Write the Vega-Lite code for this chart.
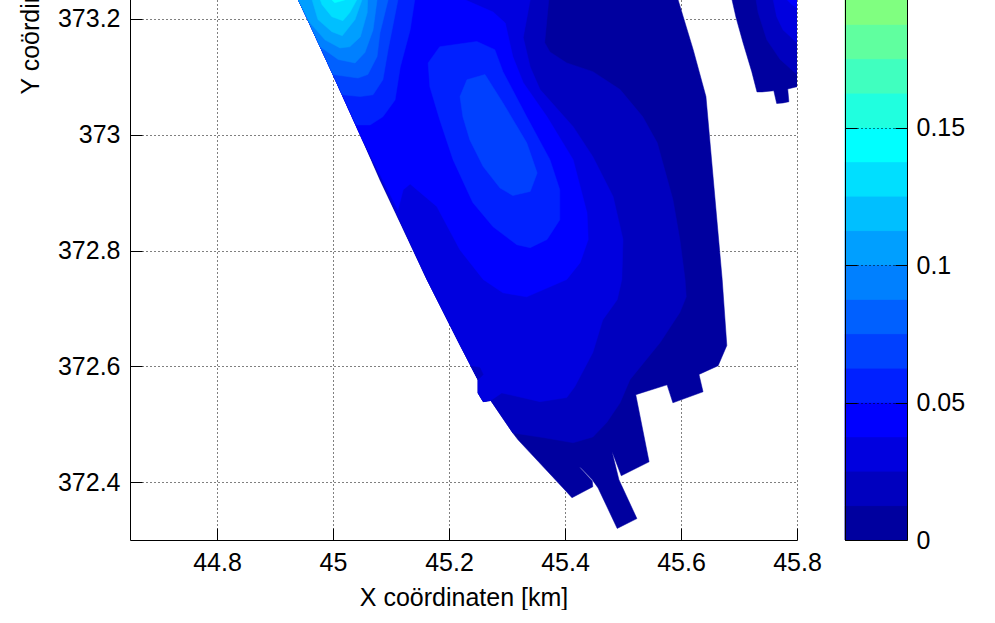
{"$schema":"https://vega.github.io/schema/vega-lite/v6.json","background":"white","padding":{"left":18,"top":-560,"right":0,"bottom":0},"config":{"font":"Liberation Sans","view":{"stroke":null},"axis":{"labelFont":"Liberation Sans","titleFont":"Liberation Sans","labelFontSize":25,"titleFontSize":25,"titleFontWeight":"normal","labelColor":"black","titleColor":"black","domainColor":"black","tickColor":"black","gridColor":"black","gridOpacity":1,"gridDash":[1,3],"gridWidth":1,"tickSize":-12,"labelOverlap":false,"labelFlush":false,"labelBound":false}},"datasets":{"contours":[
{"poly":"a","level":1,"i":0,"x":44.936,"y":373.242},{"poly":"a","level":1,"i":1,"x":44.955,"y":373.202},{"poly":"a","level":1,"i":2,"x":45,"y":373.104},{"poly":"a","level":1,"i":3,"x":45.05,"y":372.993},{"poly":"a","level":1,"i":4,"x":45.081,"y":372.922},{"poly":"a","level":1,"i":5,"x":45.162,"y":372.75},{"poly":"a","level":1,"i":6,"x":45.219,"y":372.637},{"poly":"a","level":1,"i":7,"x":45.25,"y":372.577},{"poly":"a","level":1,"i":8,"x":45.25,"y":372.554},{"poly":"a","level":1,"i":9,"x":45.259,"y":372.539},{"poly":"a","level":1,"i":10,"x":45.272,"y":372.541},{"poly":"a","level":1,"i":11,"x":45.31,"y":372.485},{"poly":"a","level":1,"i":12,"x":45.319,"y":372.473},{"poly":"a","level":1,"i":13,"x":45.403,"y":372.383},{"poly":"a","level":1,"i":14,"x":45.412,"y":372.373},{"poly":"a","level":1,"i":15,"x":45.448,"y":372.392},{"poly":"a","level":1,"i":16,"x":45.447,"y":372.402},{"poly":"a","level":1,"i":17,"x":45.424,"y":372.427},{"poly":"a","level":1,"i":18,"x":45.429,"y":372.423},{"poly":"a","level":1,"i":19,"x":45.447,"y":372.404},{"poly":"a","level":1,"i":20,"x":45.457,"y":372.39},{"poly":"a","level":1,"i":21,"x":45.49,"y":372.32},{"poly":"a","level":1,"i":22,"x":45.524,"y":372.337},{"poly":"a","level":1,"i":23,"x":45.493,"y":372.404},{"poly":"a","level":1,"i":24,"x":45.481,"y":372.453},{"poly":"a","level":1,"i":25,"x":45.497,"y":372.411},{"poly":"a","level":1,"i":26,"x":45.545,"y":372.435},{"poly":"a","level":1,"i":27,"x":45.522,"y":372.551},{"poly":"a","level":1,"i":28,"x":45.576,"y":372.568},{"poly":"a","level":1,"i":29,"x":45.586,"y":372.537},{"poly":"a","level":1,"i":30,"x":45.638,"y":372.556},{"poly":"a","level":1,"i":31,"x":45.631,"y":372.586},{"poly":"a","level":1,"i":32,"x":45.664,"y":372.601},{"poly":"a","level":1,"i":33,"x":45.679,"y":372.636},{"poly":"a","level":1,"i":34,"x":45.671,"y":372.75},{"poly":"a","level":1,"i":35,"x":45.643,"y":373.066},{"poly":"a","level":1,"i":36,"x":45.621,"y":373.147},{"poly":"a","level":1,"i":37,"x":45.595,"y":373.233},{"poly":"a","level":1,"i":38,"x":45.591,"y":373.242},
{"poly":"b1","level":1,"i":0,"x":45.684,"y":373.242},{"poly":"b1","level":1,"i":1,"x":45.688,"y":373.233},{"poly":"b1","level":1,"i":2,"x":45.695,"y":373.202},{"poly":"b1","level":1,"i":3,"x":45.707,"y":373.159},{"poly":"b1","level":1,"i":4,"x":45.722,"y":373.109},{"poly":"b1","level":1,"i":5,"x":45.731,"y":373.074},{"poly":"b1","level":1,"i":6,"x":45.74,"y":373.074},{"poly":"b1","level":1,"i":7,"x":45.76,"y":373.076},{"poly":"b1","level":1,"i":8,"x":45.765,"y":373.054},{"poly":"b1","level":1,"i":9,"x":45.776,"y":373.055},{"poly":"b1","level":1,"i":10,"x":45.786,"y":373.057},{"poly":"b1","level":1,"i":11,"x":45.784,"y":373.079},{"poly":"b1","level":1,"i":12,"x":45.8,"y":373.083},{"poly":"b1","level":1,"i":13,"x":45.8,"y":373.242},
{"poly":"b2","level":2,"i":0,"x":45.728,"y":373.242},{"poly":"b2","level":2,"i":1,"x":45.733,"y":373.211},{"poly":"b2","level":2,"i":2,"x":45.748,"y":373.164},{"poly":"b2","level":2,"i":3,"x":45.771,"y":373.13},{"poly":"b2","level":2,"i":4,"x":45.8,"y":373.104},{"poly":"b2","level":2,"i":5,"x":45.8,"y":373.242},
{"poly":"b3","level":3,"i":0,"x":45.757,"y":373.242},{"poly":"b3","level":3,"i":1,"x":45.759,"y":373.233},{"poly":"b3","level":3,"i":2,"x":45.765,"y":373.204},{"poly":"b3","level":3,"i":3,"x":45.776,"y":373.181},{"poly":"b3","level":3,"i":4,"x":45.8,"y":373.159},{"poly":"b3","level":3,"i":5,"x":45.8,"y":373.242},
{"poly":"b4","level":4,"i":0,"x":45.781,"y":373.242},{"poly":"b4","level":4,"i":1,"x":45.783,"y":373.233},{"poly":"b4","level":4,"i":2,"x":45.791,"y":373.225},{"poly":"b4","level":4,"i":3,"x":45.8,"y":373.219},{"poly":"b4","level":4,"i":4,"x":45.8,"y":373.242},
{"poly":"c","level":2,"i":0,"x":45.376,"y":373.242},{"poly":"c","level":2,"i":1,"x":45.372,"y":373.233},{"poly":"c","level":2,"i":2,"x":45.365,"y":373.159},{"poly":"c","level":2,"i":3,"x":45.374,"y":373.143},{"poly":"c","level":2,"i":4,"x":45.403,"y":373.124},{"poly":"c","level":2,"i":5,"x":45.448,"y":373.109},{"poly":"c","level":2,"i":6,"x":45.495,"y":373.078},{"poly":"c","level":2,"i":7,"x":45.534,"y":373.031},{"poly":"c","level":2,"i":8,"x":45.559,"y":372.986},{"poly":"c","level":2,"i":9,"x":45.586,"y":372.888},{"poly":"c","level":2,"i":10,"x":45.598,"y":372.819},{"poly":"c","level":2,"i":11,"x":45.607,"y":372.75},{"poly":"c","level":2,"i":12,"x":45.609,"y":372.72},{"poly":"c","level":2,"i":13,"x":45.598,"y":372.693},{"poly":"c","level":2,"i":14,"x":45.564,"y":372.641},{"poly":"c","level":2,"i":15,"x":45.512,"y":372.577},{"poly":"c","level":2,"i":16,"x":45.495,"y":372.537},{"poly":"c","level":2,"i":17,"x":45.472,"y":372.503},{"poly":"c","level":2,"i":18,"x":45.448,"y":372.478},{"poly":"c","level":2,"i":19,"x":45.414,"y":372.468},{"poly":"c","level":2,"i":20,"x":45.362,"y":372.477},{"poly":"c","level":2,"i":21,"x":45.31,"y":372.485},{"poly":"c","level":2,"i":22,"x":45.272,"y":372.541},{"poly":"c","level":2,"i":23,"x":45.259,"y":372.539},{"poly":"c","level":2,"i":24,"x":45.25,"y":372.554},{"poly":"c","level":2,"i":25,"x":45.25,"y":372.577},{"poly":"c","level":2,"i":26,"x":45.219,"y":372.637},{"poly":"c","level":2,"i":27,"x":45.162,"y":372.75},{"poly":"c","level":2,"i":28,"x":45.05,"y":372.993},{"poly":"c","level":2,"i":29,"x":45,"y":373.104},{"poly":"c","level":2,"i":30,"x":44.955,"y":373.202},{"poly":"c","level":2,"i":31,"x":44.936,"y":373.242},
{"poly":"d","level":3,"i":0,"x":45.343,"y":373.242},{"poly":"d","level":3,"i":1,"x":45.34,"y":373.233},{"poly":"d","level":3,"i":2,"x":45.328,"y":373.168},{"poly":"d","level":3,"i":3,"x":45.34,"y":373.117},{"poly":"d","level":3,"i":4,"x":45.357,"y":373.078},{"poly":"d","level":3,"i":5,"x":45.414,"y":373.014},{"poly":"d","level":3,"i":6,"x":45.448,"y":372.962},{"poly":"d","level":3,"i":7,"x":45.483,"y":372.893},{"poly":"d","level":3,"i":8,"x":45.5,"y":372.819},{"poly":"d","level":3,"i":9,"x":45.498,"y":372.75},{"poly":"d","level":3,"i":10,"x":45.49,"y":372.715},{"poly":"d","level":3,"i":11,"x":45.465,"y":372.68},{"poly":"d","level":3,"i":12,"x":45.448,"y":372.624},{"poly":"d","level":3,"i":13,"x":45.417,"y":372.565},{"poly":"d","level":3,"i":14,"x":45.403,"y":372.546},{"poly":"d","level":3,"i":15,"x":45.357,"y":372.539},{"poly":"d","level":3,"i":16,"x":45.291,"y":372.554},{"poly":"d","level":3,"i":17,"x":45.272,"y":372.541},{"poly":"d","level":3,"i":18,"x":45.259,"y":372.539},{"poly":"d","level":3,"i":19,"x":45.25,"y":372.554},{"poly":"d","level":3,"i":20,"x":45.25,"y":372.577},{"poly":"d","level":3,"i":21,"x":45.219,"y":372.637},{"poly":"d","level":3,"i":22,"x":45.162,"y":372.75},{"poly":"d","level":3,"i":23,"x":45.05,"y":372.993},{"poly":"d","level":3,"i":24,"x":45,"y":373.104},{"poly":"d","level":3,"i":25,"x":44.955,"y":373.202},{"poly":"d","level":3,"i":26,"x":44.936,"y":373.242},
{"poly":"spot","level":2,"i":0,"x":45.238,"y":372.6},{"poly":"spot","level":2,"i":1,"x":45.253,"y":372.598},{"poly":"spot","level":2,"i":2,"x":45.259,"y":372.586},{"poly":"spot","level":2,"i":3,"x":45.25,"y":372.577},
{"poly":"e","level":4,"i":0,"x":45.224,"y":373.242},{"poly":"e","level":4,"i":1,"x":45.228,"y":373.233},{"poly":"e","level":4,"i":2,"x":45.276,"y":373.212},{"poly":"e","level":4,"i":3,"x":45.297,"y":373.193},{"poly":"e","level":4,"i":4,"x":45.31,"y":373.135},{"poly":"e","level":4,"i":5,"x":45.328,"y":373.09},{"poly":"e","level":4,"i":6,"x":45.369,"y":373.031},{"poly":"e","level":4,"i":7,"x":45.414,"y":372.957},{"poly":"e","level":4,"i":8,"x":45.438,"y":372.865},{"poly":"e","level":4,"i":9,"x":45.44,"y":372.819},{"poly":"e","level":4,"i":10,"x":45.426,"y":372.779},{"poly":"e","level":4,"i":11,"x":45.403,"y":372.75},{"poly":"e","level":4,"i":12,"x":45.334,"y":372.72},{"poly":"e","level":4,"i":13,"x":45.293,"y":372.727},{"poly":"e","level":4,"i":14,"x":45.259,"y":372.75},{"poly":"e","level":4,"i":15,"x":45.219,"y":372.801},{"poly":"e","level":4,"i":16,"x":45.179,"y":372.876},{"poly":"e","level":4,"i":17,"x":45.133,"y":372.915},{"poly":"e","level":4,"i":18,"x":45.121,"y":372.905},{"poly":"e","level":4,"i":19,"x":45.112,"y":372.87},{"poly":"e","level":4,"i":20,"x":45.05,"y":372.993},{"poly":"e","level":4,"i":21,"x":45,"y":373.104},{"poly":"e","level":4,"i":22,"x":44.955,"y":373.202},{"poly":"e","level":4,"i":23,"x":44.936,"y":373.242},
{"poly":"f","level":5,"i":0,"x":45.164,"y":373.124},{"poly":"f","level":5,"i":1,"x":45.184,"y":373.152},{"poly":"f","level":5,"i":2,"x":45.248,"y":373.161},{"poly":"f","level":5,"i":3,"x":45.279,"y":373.147},{"poly":"f","level":5,"i":4,"x":45.293,"y":373.109},{"poly":"f","level":5,"i":5,"x":45.334,"y":373.031},{"poly":"f","level":5,"i":6,"x":45.374,"y":372.957},{"poly":"f","level":5,"i":7,"x":45.391,"y":372.905},{"poly":"f","level":5,"i":8,"x":45.391,"y":372.853},{"poly":"f","level":5,"i":9,"x":45.369,"y":372.819},{"poly":"f","level":5,"i":10,"x":45.34,"y":372.805},{"poly":"f","level":5,"i":11,"x":45.317,"y":372.81},{"poly":"f","level":5,"i":12,"x":45.276,"y":372.841},{"poly":"f","level":5,"i":13,"x":45.241,"y":372.883},{"poly":"f","level":5,"i":14,"x":45.207,"y":372.957},{"poly":"f","level":5,"i":15,"x":45.184,"y":373.026},{"poly":"f","level":5,"i":16,"x":45.167,"y":373.083},
{"poly":"g","level":6,"i":0,"x":45.219,"y":373.066},{"poly":"g","level":6,"i":1,"x":45.231,"y":373.095},{"poly":"g","level":6,"i":2,"x":45.262,"y":373.104},{"poly":"g","level":6,"i":3,"x":45.293,"y":373.055},{"poly":"g","level":6,"i":4,"x":45.334,"y":372.986},{"poly":"g","level":6,"i":5,"x":45.352,"y":372.934},{"poly":"g","level":6,"i":6,"x":45.34,"y":372.902},{"poly":"g","level":6,"i":7,"x":45.31,"y":372.895},{"poly":"g","level":6,"i":8,"x":45.288,"y":372.908},{"poly":"g","level":6,"i":9,"x":45.259,"y":372.945},{"poly":"g","level":6,"i":10,"x":45.236,"y":372.991},{"poly":"g","level":6,"i":11,"x":45.224,"y":373.031},
{"poly":"h","level":5,"i":0,"x":45.145,"y":373.242},{"poly":"h","level":5,"i":1,"x":45.141,"y":373.233},{"poly":"h","level":5,"i":2,"x":45.133,"y":373.181},{"poly":"h","level":5,"i":3,"x":45.116,"y":373.117},{"poly":"h","level":5,"i":4,"x":45.107,"y":373.06},{"poly":"h","level":5,"i":5,"x":45.086,"y":373.031},{"poly":"h","level":5,"i":6,"x":45.064,"y":373.017},{"poly":"h","level":5,"i":7,"x":45.04,"y":373.017},{"poly":"h","level":5,"i":8,"x":45,"y":373.104},{"poly":"h","level":5,"i":9,"x":44.955,"y":373.202},{"poly":"h","level":5,"i":10,"x":44.936,"y":373.242},
{"poly":"j6","level":6,"i":0,"x":45.114,"y":373.242},{"poly":"j6","level":6,"i":1,"x":45.112,"y":373.233},{"poly":"j6","level":6,"i":2,"x":45.095,"y":373.147},{"poly":"j6","level":6,"i":3,"x":45.086,"y":373.095},{"poly":"j6","level":6,"i":4,"x":45.069,"y":373.069},{"poly":"j6","level":6,"i":5,"x":45.047,"y":373.066},{"poly":"j6","level":6,"i":6,"x":45.016,"y":373.069},{"poly":"j6","level":6,"i":7,"x":45,"y":373.104},{"poly":"j6","level":6,"i":8,"x":44.955,"y":373.202},{"poly":"j6","level":6,"i":9,"x":44.936,"y":373.242},
{"poly":"j7","level":7,"i":0,"x":45.097,"y":373.242},{"poly":"j7","level":7,"i":1,"x":45.095,"y":373.233},{"poly":"j7","level":7,"i":2,"x":45.081,"y":373.176},{"poly":"j7","level":7,"i":3,"x":45.076,"y":373.135},{"poly":"j7","level":7,"i":4,"x":45.06,"y":373.104},{"poly":"j7","level":7,"i":5,"x":45.043,"y":373.098},{"poly":"j7","level":7,"i":6,"x":45,"y":373.104},{"poly":"j7","level":7,"i":7,"x":44.955,"y":373.202},{"poly":"j7","level":7,"i":8,"x":44.936,"y":373.242},
{"poly":"k","level":8,"i":0,"x":45.078,"y":373.242},{"poly":"k","level":8,"i":1,"x":45.076,"y":373.233},{"poly":"k","level":8,"i":2,"x":45.069,"y":373.181},{"poly":"k","level":8,"i":3,"x":45.055,"y":373.142},{"poly":"k","level":8,"i":4,"x":45.038,"y":373.124},{"poly":"k","level":8,"i":5,"x":45.009,"y":373.13},{"poly":"k","level":8,"i":6,"x":44.978,"y":373.152},{"poly":"k","level":8,"i":7,"x":44.955,"y":373.202},{"poly":"k","level":8,"i":8,"x":44.936,"y":373.242},
{"poly":"l","level":9,"i":0,"x":45.06,"y":373.242},{"poly":"l","level":9,"i":1,"x":45.059,"y":373.211},{"poly":"l","level":9,"i":2,"x":45.047,"y":373.169},{"poly":"l","level":9,"i":3,"x":45.029,"y":373.152},{"poly":"l","level":9,"i":4,"x":45.012,"y":373.15},{"poly":"l","level":9,"i":5,"x":44.986,"y":373.164},{"poly":"l","level":9,"i":6,"x":44.959,"y":373.195},{"poly":"l","level":9,"i":7,"x":44.936,"y":373.242},
{"poly":"m","level":10,"i":0,"x":45.052,"y":373.242},{"poly":"m","level":10,"i":1,"x":45.05,"y":373.233},{"poly":"m","level":10,"i":2,"x":45.038,"y":373.199},{"poly":"m","level":10,"i":3,"x":45.016,"y":373.171},{"poly":"m","level":10,"i":4,"x":44.998,"y":373.178},{"poly":"m","level":10,"i":5,"x":44.974,"y":373.199},{"poly":"m","level":10,"i":6,"x":44.964,"y":373.233},{"poly":"m","level":10,"i":7,"x":44.962,"y":373.242},
{"poly":"n","level":11,"i":0,"x":45.043,"y":373.242},{"poly":"n","level":11,"i":1,"x":45.041,"y":373.233},{"poly":"n","level":11,"i":2,"x":45.029,"y":373.211},{"poly":"n","level":11,"i":3,"x":45.017,"y":373.197},{"poly":"n","level":11,"i":4,"x":44.998,"y":373.204},{"poly":"n","level":11,"i":5,"x":44.981,"y":373.225},{"poly":"n","level":11,"i":6,"x":44.978,"y":373.233},{"poly":"n","level":11,"i":7,"x":44.976,"y":373.242},
{"poly":"o","level":12,"i":0,"x":44.998,"y":373.242},{"poly":"o","level":12,"i":1,"x":44.998,"y":373.233},{"poly":"o","level":12,"i":2,"x":45.003,"y":373.228},{"poly":"o","level":12,"i":3,"x":45.021,"y":373.233},{"poly":"o","level":12,"i":4,"x":45.021,"y":373.242}
],
"bands":[{"level":1,"lo":0,"hi":0.0125},{"level":2,"lo":0.0125,"hi":0.025},{"level":3,"lo":0.025,"hi":0.0375},{"level":4,"lo":0.0375,"hi":0.05},{"level":5,"lo":0.05,"hi":0.0625},{"level":6,"lo":0.0625,"hi":0.075},{"level":7,"lo":0.075,"hi":0.0875},{"level":8,"lo":0.0875,"hi":0.1},{"level":9,"lo":0.1,"hi":0.1125},{"level":10,"lo":0.1125,"hi":0.125},{"level":11,"lo":0.125,"hi":0.1375},{"level":12,"lo":0.1375,"hi":0.15},{"level":13,"lo":0.15,"hi":0.1625},{"level":14,"lo":0.1625,"hi":0.175},{"level":15,"lo":0.175,"hi":0.1875},{"level":16,"lo":0.1875,"hi":0.2}]},
"bounds":"flush","spacing":48,"hconcat":[
{"width":667,"height":1100,"data":{"name":"contours"},"mark":{"type":"line","clip":true,"strokeWidth":0.5,"interpolate":"linear-closed"},"encoding":{
"x":{"field":"x","type":"quantitative","scale":{"domain":[44.65,45.8],"nice":false,"zero":false},"axis":{"title":"X coördinaten [km]","values":[44.8,45,45.2,45.4,45.6,45.8],"format":".1~f","grid":true,"labelPadding":22,"titlePadding":10}},
"y":{"field":"y","type":"quantitative","scale":{"domain":[372.3,374.2],"nice":false,"zero":false},"axis":{"title":"Y coördinaten [km]","values":[372.4,372.6,372.8,373,373.2],"format":".1~f","grid":true,"labelPadding":22,"titlePadding":13.5}},
"order":{"field":"i","type":"quantitative"},
"detail":{"field":"poly"},
"fill":{"field":"level","type":"ordinal","legend":null,"scale":{"domain":[1,2,3,4,5,6,7,8,9,10,11,12,13,14,15,16],"range":["#00009f","#0000bf","#0000df","#0000ff","#0020ff","#0040ff","#0060ff","#0080ff","#009fff","#00bfff","#00dfff","#00ffff","#20ffdf","#40ffbf","#60ff9f","#80ff80"]}},
"stroke":{"field":"level","type":"ordinal","legend":null,"scale":{"domain":[1,2,3,4,5,6,7,8,9,10,11,12,13,14,15,16],"range":["#00009f","#0000bf","#0000df","#0000ff","#0020ff","#0040ff","#0060ff","#0080ff","#009fff","#00bfff","#00dfff","#00ffff","#20ffdf","#40ffbf","#60ff9f","#80ff80"]}}
}},
{"width":62,"height":1100,"data":{"name":"bands"},"resolve":{"axis":{"y":"independent"}},"encoding":{
"x":{"datum":0,"type":"quantitative","scale":{"domain":[0,1],"nice":false},"axis":{"title":null,"labels":false,"ticks":false,"grid":false,"domain":true,"zindex":1}},
"x2":{"datum":1},
"y2":{"field":"hi"},
"fill":{"field":"level","type":"ordinal","legend":null,"scale":{"domain":[1,2,3,4,5,6,7,8,9,10,11,12,13,14,15,16],"range":["#00009f","#0000bf","#0000df","#0000ff","#0020ff","#0040ff","#0060ff","#0080ff","#009fff","#00bfff","#00dfff","#00ffff","#20ffdf","#40ffbf","#60ff9f","#80ff80"]}},
"stroke":{"field":"level","type":"ordinal","legend":null,"scale":{"domain":[1,2,3,4,5,6,7,8,9,10,11,12,13,14,15,16],"range":["#00009f","#0000bf","#0000df","#0000ff","#0020ff","#0040ff","#0060ff","#0080ff","#009fff","#00bfff","#00dfff","#00ffff","#20ffdf","#40ffbf","#60ff9f","#80ff80"]}}
},"layer":[
{"mark":{"type":"rect","strokeWidth":0.5},"encoding":{"y":{"field":"lo","type":"quantitative","scale":{"domain":[0,0.4],"nice":false},"axis":{"orient":"left","title":null,"values":[0,0.05,0.1,0.15],"labels":false,"zindex":1,"domain":true}}}},
{"mark":{"type":"rect","strokeWidth":0.5},"encoding":{"y":{"field":"lo","type":"quantitative","scale":{"domain":[0,0.4],"nice":false},"axis":{"orient":"right","title":null,"values":[0,0.05,0.1,0.15],"format":".3~f","labelPadding":21,"zindex":1,"domain":true}}}}
]}
]}
